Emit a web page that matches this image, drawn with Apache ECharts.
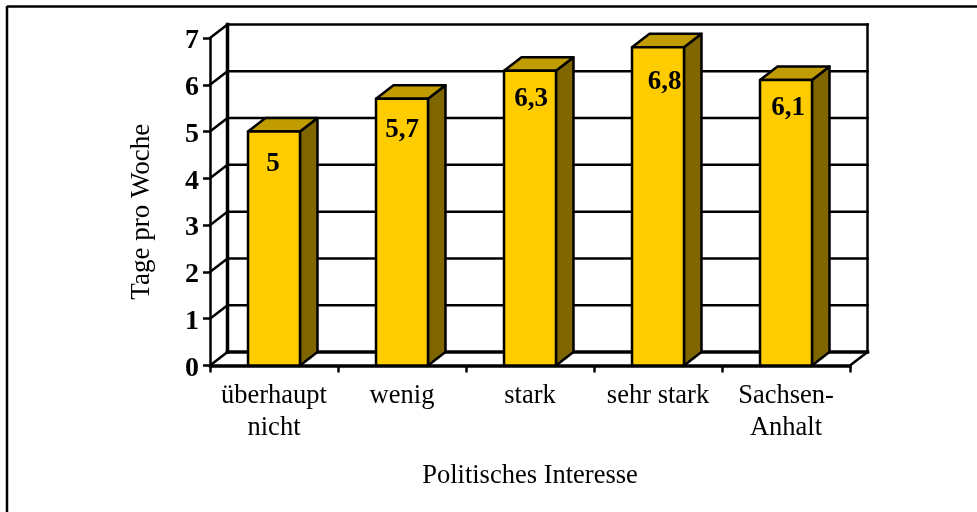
<!DOCTYPE html>
<html>
<head>
<meta charset="utf-8">
<title>Politisches Interesse</title>
<style>
    html, body { margin: 0; padding: 0; background: #fff; }
    #main { width: 977px; height: 512px; }
</style>
<script src="https://cdn.jsdelivr.net/npm/echarts@6/dist/echarts.min.js"></script>
</head>
<body>
<div id="main"></div>
<script>
    var categories = ['überhaupt\nnicht', 'wenig', 'stark', 'sehr stark', 'Sachsen-\nAnhalt'];
    var values = [5, 5.7, 6.3, 6.8, 6.1];
    var valueLabels = ['5', '5,7', '6,3', '6,8', '6,1'];
    var yTicks = [0, 1, 2, 3, 4, 5, 6, 7];

    // Tiefe der Pseudo-3D-Darstellung
    var depthX = 17.5;
    var depthY = 13.5;
    // Versatz der Saeulenbeschriftung gegenueber Saeulenmitte / Oberkante
    var labelShiftX = [-1, 0, 1, 6.5, 2];
    var labelShiftY = [32, 31.6, 28.7, 34.6, 28.3];
    var fontFamily = '"Liberation Serif", "Times New Roman", serif';

    function line(x1, y1, x2, y2, width) {
        return {
            type: 'line',
            shape: { x1: x1, y1: y1, x2: x2, y2: y2 },
            style: { stroke: '#000', lineWidth: width, lineCap: 'square' }
        };
    }

    // Rueckwand, Gitterlinien und Boden
    function renderWall(params, api) {
        var v = api.value(1);
        var rect = params.coordSys;
        var left = rect.x;
        var right = rect.x + rect.width;
        var y = api.coord([0, v])[1];
        var children = [
            line(left, y, left + depthX, y - depthY, 2.5),
            line(left + depthX, y - depthY, right + depthX, y - depthY, v === 0 ? 3.5 : 2.5)
        ];
        if (v === 0) {
            children.push(line(right, y, right + depthX, y - depthY, 2.5));
        }
        if (v === 7) {
            var bottom = api.coord([0, 0])[1];
            children.push(line(left + depthX, y - depthY, left + depthX, bottom - depthY, 3.5));
            children.push(line(right + depthX, y - depthY, right + depthX, bottom - depthY, 2.5));
        }
        return { type: 'group', children: children };
    }

    // Saeule mit Vorderseite, Deckel und Seitenflaeche
    function renderBar(params, api) {
        var idx = api.value(0);
        var top = api.coord([idx, api.value(1)]);
        var bottom = api.coord([idx, 0]);
        var w = api.size([1, 0])[0] * 0.406;
        var x0 = top[0] - w / 2;
        var x1 = top[0] + w / 2;
        var border = { stroke: '#000', lineWidth: 2.5, lineJoin: 'round' };
        return {
            type: 'group',
            children: [
                {
                    type: 'polygon',
                    shape: { points: [[x1, top[1]], [x1 + depthX, top[1] - depthY], [x1 + depthX, bottom[1] - depthY], [x1, bottom[1]]] },
                    style: Object.assign({ fill: '#806600' }, border)
                },
                {
                    type: 'polygon',
                    shape: { points: [[x0, top[1]], [x0 + depthX, top[1] - depthY], [x1 + depthX, top[1] - depthY], [x1, top[1]]] },
                    style: Object.assign({ fill: '#C09C00' }, border)
                },
                {
                    type: 'rect',
                    shape: { x: x0, y: top[1], width: w, height: bottom[1] - top[1] },
                    style: Object.assign({ fill: '#FFCC00' }, border)
                },
                {
                    type: 'text',
                    x: top[0] + labelShiftX[idx],
                    y: top[1] + labelShiftY[idx],
                    style: {
                        text: valueLabels[idx],
                        fill: '#000',
                        font: 'bold 27px ' + fontFamily,
                        align: 'center',
                        verticalAlign: 'middle'
                    }
                }
            ]
        };
    }

    var myChart = echarts.init(document.getElementById('main'), null, { renderer: 'canvas' });
    var option = {
        animation: false,
        backgroundColor: '#fff',
        grid: { left: 210, top: 38, width: 640, height: 327.5 },
        graphic: [
            { type: 'line', shape: { x1: 7, y1: 6.5, x2: 977, y2: 6.5 }, style: { stroke: '#000', lineWidth: 2.5 } },
            { type: 'line', shape: { x1: 7, y1: 6, x2: 7, y2: 512 }, style: { stroke: '#000', lineWidth: 2.5 } }
        ],
        xAxis: {
            type: 'category',
            data: categories,
            name: 'Politisches Interesse',
            nameLocation: 'middle',
            nameGap: 97,
            nameTextStyle: { fontFamily: fontFamily, fontSize: 26.5, color: '#000' },
            axisLine: { lineStyle: { color: '#000', width: 3.5 } },
            axisTick: { show: true, length: 7, lineStyle: { color: '#000', width: 2.5 } },
            axisLabel: { fontFamily: fontFamily, fontSize: 26.5, color: '#000', lineHeight: 32, margin: 15, interval: 0 },
            splitLine: { show: false }
        },
        yAxis: {
            type: 'value',
            min: 0,
            max: 7,
            interval: 1,
            name: 'Tage pro Woche',
            nameLocation: 'middle',
            nameGap: 55,
            nameTextStyle: { fontFamily: fontFamily, fontSize: 27, color: '#000', padding: [0, 20, 0, 0] },
            axisLine: { show: true, lineStyle: { color: '#000', width: 2.5 } },
            axisTick: { show: true, length: 7, lineStyle: { color: '#000', width: 2.5 } },
            axisLabel: { fontFamily: fontFamily, fontSize: 28, fontWeight: 'bold', color: '#000', margin: 11, verticalAlign: 'top', lineHeight: 6 },
            splitLine: { show: false }
        },
        series: [
            {
                type: 'custom',
                renderItem: renderWall,
                clip: false,
                silent: true,
                z: 1,
                data: yTicks.map(function (v) { return [0, v]; })
            },
            {
                type: 'custom',
                renderItem: renderBar,
                clip: false,
                z: 3,
                encode: { x: 0, y: 1 },
                data: values.map(function (v, i) { return [i, v]; })
            }
        ]
    };
    myChart.setOption(option);
</script>
</body>
</html>
